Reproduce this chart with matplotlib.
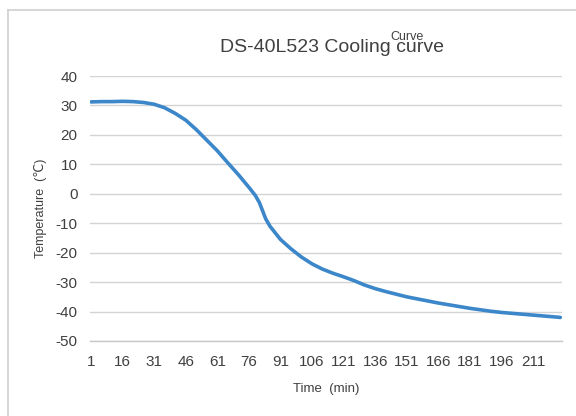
import matplotlib
matplotlib.use("Agg")
import matplotlib.pyplot as plt
from matplotlib.lines import Line2D

times = [1, 6, 11, 16, 21, 26, 31, 36, 41, 46, 51, 56, 61, 66, 71, 76, 79, 81, 84,
         86, 91, 96, 101, 106, 111, 116, 121, 126, 131, 136, 141, 146, 151, 156,
         161, 166, 171, 176, 181, 186, 191, 196, 201, 206, 211, 216, 221, 224]
temps = [31.2, 31.3, 31.3, 31.4, 31.3, 31.0, 30.4, 29.2, 27.3, 25.0, 21.8, 18.2,
         14.6, 10.5, 6.5, 2.2, -0.5, -3.0, -8.5, -11.0, -15.5, -18.7, -21.5, -23.8,
         -25.6, -27.0, -28.2, -29.5, -31.0, -32.2, -33.2, -34.1, -35.0, -35.7,
         -36.4, -37.1, -37.7, -38.3, -38.9, -39.4, -39.9, -40.3, -40.6, -40.9,
         -41.2, -41.5, -41.8, -42.0]
xticks = [1, 16, 31, 46, 61, 76, 91, 106, 121, 136, 151, 166, 181, 196, 211]
yticks = [40, 30, 20, 10, 0, -10, -20, -30, -40, -50]

plt.rcParams['font.family'] = ['Liberation Sans', 'DejaVu Sans']
plt.rcParams['axes.unicode_minus'] = False
fig = plt.figure(figsize=(5.76, 4.16), dpi=100)
ax = fig.add_axes([90/576, 1-341/416, (562-90)/576, (341-76)/416])

ax.plot(times, temps, color='#3b87c9', lw=2.6, solid_capstyle='round', zorder=3)
ax.set_xlim(0.5, 224.8)
ax.set_ylim(-50, 40)
ax.set_xticks(xticks)
ax.set_yticks(yticks)
ax.tick_params(length=0, labelsize=11, colors='#404040', pad=9)
ax.tick_params(axis='x', pad=10)
ax.grid(axis='y', color='#d4d4d4', lw=1.0)
for s in ['top', 'right', 'left']:
    ax.spines[s].set_visible(False)
ax.spines['bottom'].set_color('#c8c8c8')
ax.spines['bottom'].set_linewidth(1.0)

ax.set_ylabel('Temperature  (\u2103)', fontsize=9, color='#404040', labelpad=6)
ax.set_xlabel('Time  (min)', fontsize=9.5, color='#404040', labelpad=10)

fig.text(332/576, 1-47/416, 'DS-40L523 Cooling curve', ha='center', va='center',
         fontsize=14, color='#404040')
fig.text(407/576, 1-37/416, 'Curve', ha='center', va='center', fontsize=9,
         color='#404040')

fig.add_artist(Line2D([8/576, 8/576], [0, 1-10/416], transform=fig.transFigure,
                      color='#d0d0d0', lw=1.2))
fig.add_artist(Line2D([8/576, 1], [1-10/416, 1-10/416], transform=fig.transFigure,
                      color='#d0d0d0', lw=1.2))

fig.savefig('out.png', dpi=100)
